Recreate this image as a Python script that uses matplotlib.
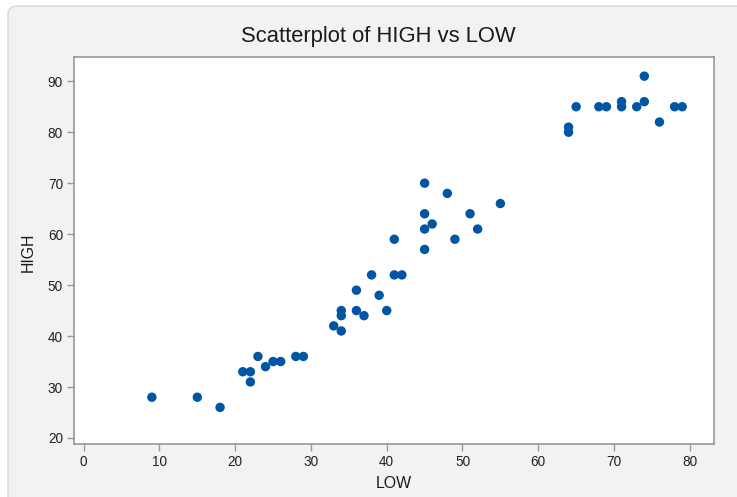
import matplotlib
matplotlib.use('Agg')
from matplotlib import pyplot as plt
from matplotlib.patches import FancyBboxPatch
from matplotlib.transforms import IdentityTransform

# data
low = [9, 15, 18, 21, 22, 22, 23, 24, 25, 26, 28, 29,
       33, 34, 34, 34, 36, 36, 37, 38, 39, 40, 41, 41, 42,
       45, 45, 45, 45, 46, 48, 49, 51, 52, 55,
       64, 64, 65, 68, 69, 71, 71, 73, 74, 74, 76, 78, 79]
high = [28, 28, 26, 33, 33, 31, 36, 34, 35, 35, 36, 36,
        42, 45, 44, 41, 49, 45, 44, 52, 48, 45, 59, 52, 52,
        70, 64, 61, 57, 62, 68, 59, 64, 61, 66,
        81, 80, 85, 85, 85, 86, 85, 85, 91, 86, 82, 85, 85]
x_ticks = [0, 10, 20, 30, 40, 50, 60, 70, 80]
y_ticks = [20, 30, 40, 50, 60, 70, 80, 90]

W, H = 737, 497
plt.rcParams['font.family'] = ['Liberation Sans', 'DejaVu Sans']

fig = plt.figure(figsize=(W / 100, H / 100), dpi=100)
fig.patch.set_facecolor('white')

# rounded grey panel behind the chart
panel = FancyBboxPatch(
    (8, -30), 800, H - 6 + 30,
    boxstyle='round,pad=0,rounding_size=9',
    transform=IdentityTransform(),
    facecolor='#f2f2f2', edgecolor='#d6d6d6', linewidth=1.0, zorder=-5
)
fig.patches.append(panel)

ax = fig.add_axes([74 / W, 1 - 444 / H, (714 - 74) / W, (444 - 57) / H])
ax.set_facecolor('white')

ax.scatter(low, high, s=46, color='#0055a5', edgecolors='none', zorder=3)

ax.set_xlim(-1.28, 83.2)
ax.set_ylim(18.82, 94.76)
ax.set_xticks(x_ticks)
ax.set_yticks(y_ticks)

for sp in ax.spines.values():
    sp.set_color('#8f8f8f')
    sp.set_linewidth(1.1)

ax.tick_params(axis='both', direction='out', length=5, width=1.0,
               color='#9a9a9a', labelsize=9.8, labelcolor='#222222', pad=3)

ax.set_xlabel('LOW', fontsize=11.4, color='#1a1a1a')
ax.set_ylabel('HIGH', fontsize=11.4, color='#1a1a1a')
ax.xaxis.set_label_coords(0.5, (444 - 476) / 387)
ax.yaxis.set_label_coords((36 - 74) / 640, 0.495)

fig.text(378 / W, 1 - 42 / H, 'Scatterplot of HIGH vs LOW',
         ha='center', va='baseline', fontsize=15.8, color='#1a1a1a')

fig.savefig('out.png', dpi=100)
